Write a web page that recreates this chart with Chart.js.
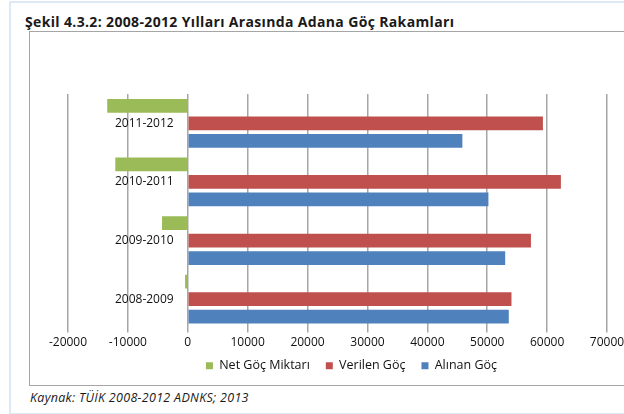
<!DOCTYPE html>
<html>
<head>
<meta charset="utf-8">
<script src="https://cdn.jsdelivr.net/npm/chart.js@4"></script>
<style>
  body { margin: 0; background: #fff; width: 624px; height: 414px; overflow: hidden; position: relative; }
  #frame { position: absolute; left: 9px; top: 1px; width: 700px; height: 410px; border: 2px solid #dde9f4; }
  #title { position: absolute; left: 25px; top: 12px; font: bold 14px "Open Sans", sans-serif; letter-spacing: 0.35px; color: #1a1a1a; white-space: nowrap; }
  #box { position: absolute; left: 29px; top: 31px; width: 660px; height: 353px; border: 1px solid #a6a6a6; }
  #chart { position: absolute; left: 1px; top: 0; }
  #caption { position: absolute; left: 30px; top: 389px; font: italic 12.5px "Open Sans", sans-serif; letter-spacing: 0.3px; color: #1a1a1a; white-space: nowrap; }
</style>
</head>
<body>
<div id="frame"></div>
<div id="title">Şekil 4.3.2: 2008-2012 Yılları Arasında Adana Göç Rakamları</div>
<div id="box"><canvas id="chart" width="640" height="353"></canvas></div>
<div id="caption">Kaynak: TÜİK 2008-2012 ADNKS; 2013</div>
<script>
const periods = ["2011-2012", "2010-2011", "2009-2010", "2008-2009"];
const netGoc = [-13450, -12100, -4300, -450];
const verilenGoc = [59300, 62300, 57300, 54050];
const alinanGoc = [45850, 50200, 53000, 53600];
const xTicks = [-20000, -10000, 0, 10000, 20000, 30000, 40000, 50000, 60000, 70000];

const ctx = document.querySelector("#chart").getContext("2d");
const font = { family: "Open Sans", size: 12 };

// the original legend is centred on the whole chart box, not the plot
const moveLegend = {
  id: "moveLegend",
  afterLayout(chart) {
    chart.legend.left += 14;
    chart.legend.right += 14;
    chart.legend.top -= 3;
  },
};

const chart = new Chart(ctx, {
  type: "bar",
  data: {
    labels: periods,
    datasets: [
      { label: "Net Göç Miktarı", data: netGoc, backgroundColor: "#9bbb59" },
      { label: "Verilen Göç", data: verilenGoc, backgroundColor: "#c0504d" },
      { label: "Alınan Göç", data: alinanGoc, backgroundColor: "#4f81bd" },
    ],
  },
  options: {
    indexAxis: "y",
    responsive: false,
    animation: false,
    categoryPercentage: 0.895,
    barPercentage: 0.79,
    layout: { padding: { left: 37, right: 64, top: 62, bottom: 0 } },
    scales: {
      x: {
        min: xTicks[0],
        max: xTicks[xTicks.length - 1],
        afterBuildTicks: (scale) => {
          scale.ticks = xTicks.map((v) => ({ value: v }));
        },
        afterFit: (scale) => {
          // keep the legend close to the tick labels, and do not clip them
          scale.height = 18;
          scale._computeLabelArea = () => undefined;
        },
        ticks: { font: font, color: "#111", padding: 3, callback: (v) => String(v) },
        grid: { color: "#a6a6a6", lineWidth: 1.5, tickLength: 4 },
        border: { display: false },
      },
      y: {
        // labels sit a little left of the zero line, like the original
        position: { x: -2350 },
        grid: { display: false },
        border: { display: false },
        ticks: { font: font, color: "#111", padding: 0 },
      },
    },
    plugins: {
      legend: {
        position: "bottom",
        labels: { font: { family: "Open Sans", size: 12.5 }, color: "#111", boxWidth: 7, boxHeight: 7, padding: 16 },
      },
      tooltip: { enabled: false },
    },
  },
  plugins: [moveLegend],
});
</script>
</body>
</html>
